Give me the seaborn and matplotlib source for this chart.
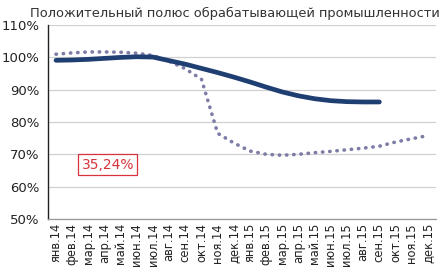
import seaborn as sns
import matplotlib.pyplot as plt
import matplotlib.ticker as mticker
import pandas as pd

months = ["янв.14", "фев.14", "мар.14", "апр.14", "май.14", "июн.14", "июл.14", "авг.14",
          "сен.14", "окт.14", "ноя.14", "дек.14", "янв.15", "фев.15", "мар.15", "апр.15",
          "май.15", "июн.15", "июл.15", "авг.15", "сен.15", "окт.15", "ноя.15", "дек.15"]

# solid series ends at сен.15
solid = [99.1, 99.2, 99.4, 99.7, 100.0, 100.2, 100.1, 99.0, 97.9, 96.6, 95.3, 93.9,
         92.4, 90.8, 89.3, 88.1, 87.2, 86.6, 86.3, 86.2, 86.2]
dotted = [101.0, 101.4, 101.7, 101.7, 101.6, 101.3, 100.6, 98.8, 96.5, 93.2, 76.5, 73.5,
          71.0, 70.0, 69.7, 70.0, 70.5, 70.9, 71.4, 71.9, 72.5, 73.8, 74.8, 75.8]

label_value = "35,24%"

sns.set_style("white")
plt.rcParams["font.family"] = ["DejaVu Sans"]

df_solid = pd.DataFrame({"x": range(len(solid)), "y": solid})
df_dot = pd.DataFrame({"x": range(len(dotted)), "y": dotted})

fig = plt.figure(figsize=(4.48, 2.76), dpi=100)
ax = fig.add_axes([0.107, 0.207, 0.866, 0.702])

sns.lineplot(data=df_dot, x="x", y="y", ax=ax, color="#7c7ca6", linewidth=2.6,
             linestyle=(0, (0.1, 1.9)))
ax.lines[-1].set_dash_capstyle("round")
sns.lineplot(data=df_solid, x="x", y="y", ax=ax, color="#1f3f73", linewidth=3.4)
ax.lines[-1].set_solid_joinstyle("round")

ax.set_xlim(-0.5, len(months) - 0.5)
ax.set_ylim(50, 110)
ax.set_yticks(range(50, 111, 10))
ax.set_yticklabels([f"{v}%" for v in range(50, 111, 10)], fontsize=9.5, color="#222222")
ax.set_xticks(range(len(months)))
ax.set_xticklabels(months, rotation=90, fontsize=8.3, color="#222222")
ax.xaxis.set_minor_locator(mticker.FixedLocator([i + 0.5 for i in range(-1, len(months))]))
ax.tick_params(axis="x", which="major", length=0, pad=3)
ax.tick_params(axis="x", which="minor", length=4, color="#888888", width=0.8)
ax.tick_params(axis="y", length=4, color="#222222", width=0.8, pad=2)
ax.set_xlabel("")
ax.set_ylabel("")

ax.grid(axis="y", color="#d0d0d0", linewidth=0.9)
ax.set_axisbelow(True)
for s in ["top", "right"]:
    ax.spines[s].set_visible(False)
ax.spines["left"].set_color("#222222")
ax.spines["left"].set_linewidth(1.0)
ax.spines["bottom"].set_color("#999999")
ax.spines["bottom"].set_linewidth(0.9)

ax.text(3.2, 66.8, label_value, color="#d8323c", fontsize=10, ha="center", va="center",
        bbox=dict(boxstyle="square,pad=0.25", facecolor="white", edgecolor="#d8323c", linewidth=0.9))

fig.text(0.525, 0.975, "Положительный полюс обрабатывающей промышленности", fontsize=9.4,
         color="#333333", ha="center", va="top")

fig.savefig("out.png", dpi=100)
